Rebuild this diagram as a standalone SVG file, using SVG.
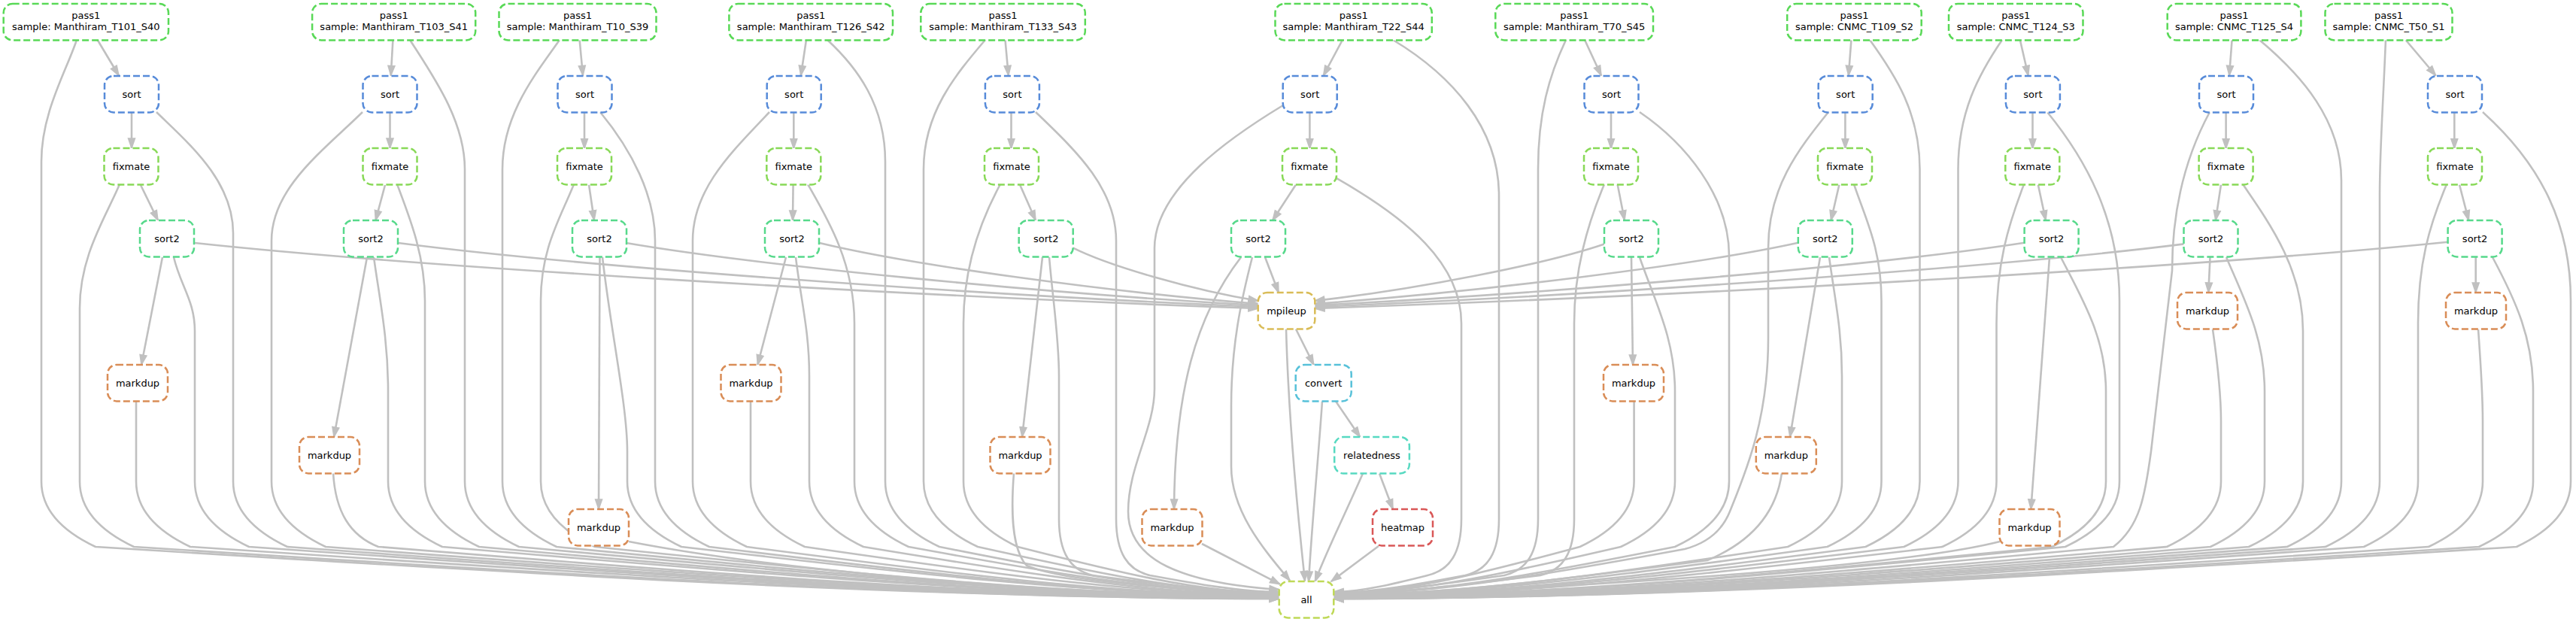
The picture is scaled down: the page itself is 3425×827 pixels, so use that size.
<svg xmlns="http://www.w3.org/2000/svg" width="3425" height="827" viewBox="0 0 3425 827">
<style>
.node rect{fill:#fff;stroke-width:2.5;stroke-dasharray:9 4}
.node text{font-family:"DejaVu Sans","Liberation Sans",sans-serif;font-size:13px;fill:#000;text-anchor:middle}
.pass1 rect{stroke:#59d957}.sort rect{stroke:#578bd9}.fixmate rect{stroke:#88d957}.sort2 rect{stroke:#57d98b}
.markdup rect{stroke:#d98d57}.mpileup rect{stroke:#d9bc57}.convert rect{stroke:#57c1d9}.relatedness rect{stroke:#57d9c1}
.heatmap rect{stroke:#d95757}.all rect{stroke:#bfd957}
#edges path{fill:none;stroke:#c0c0c0;stroke-width:2.6;marker-end:url(#ah)}
</style>
<defs>
<marker id="ah" markerUnits="userSpaceOnUse" markerWidth="16" markerHeight="12" viewBox="0 0 16 12" refX="14" refY="6" orient="auto"><path d="M1,1.5 L14,6 L1,10.5 Z" fill="#c0c0c0" stroke="#c0c0c0" stroke-width="1.5"/></marker>
</defs>
<rect width="3425" height="827" fill="#fff"/>
<g id="edges">
<path d="M129.6,53 L158,100.5"/><path d="M175,150 L175,197"/><path d="M187,246 L210,293"/><path d="M216,342 L188,485"/>
<path d="M522.4,53.3 L519.7,100.5"/><path d="M518.5,150 L518.5,197"/><path d="M512,246 L499.4,293"/><path d="M488,342 L444,581"/>
<path d="M770.6,53 L775,100.5"/><path d="M777,149.5 L777,197.5"/><path d="M783,245.5 L790,293"/><path d="M797.5,342 L796,677"/>
<path d="M1072,53 L1064.8,100.5"/><path d="M1055.3,149.5 L1055.3,197.5"/><path d="M1054.6,245.5 L1054,293"/><path d="M1045,342 L1007.3,485"/>
<path d="M1336.5,53 L1340.8,100.5"/><path d="M1344.5,149.5 L1344.5,197.5"/><path d="M1356,245.5 L1377,293"/><path d="M1386,342 L1359,581"/>
<path d="M1785,53 L1759.6,100.5"/><path d="M1741.4,149.5 L1741.4,197.5"/><path d="M1723,245.5 L1692,293"/><path d="M1682,342 L1700,389"/><path d="M1650,342 C1590,420 1562,520 1561,677"/>
<path d="M1723,437.5 L1746.7,485"/><path d="M1776,533.5 L1808.3,581"/><path d="M1834,629.5 L1852,677"/>
<path d="M2107,53 L2129,100.5"/><path d="M2142,149.5 L2142,197.5"/><path d="M2150.7,245.5 L2160,293"/><path d="M2169,342 L2171,485"/>
<path d="M2461.4,53 L2457.8,100.5"/><path d="M2453.4,149.5 L2453.4,197.5"/><path d="M2445.4,245.5 L2434.5,293"/><path d="M2420,342 L2379.9,581"/>
<path d="M2685.8,53 L2696.7,100.5"/><path d="M2702.5,149.5 L2702.5,197.5"/><path d="M2709.8,245.5 L2720,293"/><path d="M2725,342 L2700.3,677"/>
<path d="M2967.6,53 L2964,100.5"/><path d="M2959.6,149.5 L2959.6,197.5"/><path d="M2953,245.5 L2945.8,293"/><path d="M2938.5,342 L2936.3,389"/>
<path d="M3198.5,53 L3238.6,100.5"/><path d="M3263.3,149.5 L3263.3,197.5"/><path d="M3270,245.5 L3282.3,293"/><path d="M3291.7,342 L3291.7,389"/>
<path d="M259,323 C541.8,353.5 1178.1,392.6 1673,410"/>
<path d="M529.5,323 C758.2,352.8 1272.8,391 1673,408"/>
<path d="M832.5,323 C1000.6,352 1378.8,389.4 1673,406"/>
<path d="M1089.6,323 C1206.3,351.4 1468.8,387.8 1673,404"/>
<path d="M1426.8,329.6 C1476,354.2 1586.8,385.9 1673,400"/>
<path d="M2133,324.4 C2056,350.9 1882.8,384.9 1748,400"/>
<path d="M2390.8,322.8 C2262.2,351.2 1973,387.8 1748,404"/>
<path d="M2691.6,322.8 C2502.9,351.9 2078.3,389.4 1748,406"/>
<path d="M2904,324.4 C2672.8,353.7 2152.6,391.3 1748,408"/>
<path d="M3254.6,321.7 C2953.3,352.6 2275.3,392.3 1748,410"/>
<path d="M102,53 C88,95 55,150 55,215 L55,640 C55,683 91,710 127,727 C678,761.5 1229,796 1701,796"/>
<path d="M159,245 C140,290 106,340 106,410 L106,640 C106,683 142,710 178,727 C711,761.5 1244,796 1701,796"/>
<path d="M181,533.7 L181,640 C181,683 217,710 253,727 C760,761 1267,795 1701,795"/>
<path d="M231,342 C240,380 259,400 259,440 L259,640 C259,683 295,710 331,727 C810.5,761 1290,795 1701,795"/>
<path d="M208,149 C250,190 310,240 310,310 L310,640 C310,683 346,710 382,727 C844,761 1305,795 1701,795"/>
<path d="M482,149 C430,200 361,250 361,320 L361,640 C361,683 397,710 433,727 C877,760.5 1321,794 1701,794"/>
<path d="M443,629 C446,680 465,712 503,727 C922,761 1342,795 1701,795"/>
<path d="M497,342 C505,400 516,450 516,520 L516,640 C516,683 552,710 588,727 C977.5,760.5 1367,794 1701,794"/>
<path d="M528,245 C545,290 565,340 565,400 L565,640 C565,683 601,710 637,727 C1009,760.5 1382,794 1701,794"/>
<path d="M545,53 C575,100 618,160 618,225 L618,640 C618,683 654,710 690,727 C1044,760 1398,793 1701,793"/>
<path d="M744,53 C715,95 668,150 668,225 L668,640 C668,683 704,710 740,727 C1076,760 1413,793 1701,793"/>
<path d="M763,245 C745,290 719,330 719,400 L719,640 C719,683 755,710 791,727 C1109.5,760 1428,793 1701,793"/>
<path d="M801,342 C812,440 834,540 834,600 L834,640 C834,683 870,710 906,727 C1184,759.5 1462.5,792 1701,792"/>
<path d="M836,720 C1000,752 1350,790 1701,793"/>
<path d="M798,149 C840,200 871,260 871,320 L871,640 C871,683 907,710 943,727 C1208,759.5 1474,792 1701,792"/>
<path d="M1023,149 C975,200 921,250 921,320 L921,640 C921,683 957,710 993,727 C1241,759.5 1489,792 1701,792"/>
<path d="M998,533.7 L998,640 C998,683 1034,710 1070,727 C1291,759 1512,791 1701,791"/>
<path d="M1058,342 C1065,400 1076,440 1076,500 L1076,640 C1076,683 1112,710 1148,727 C1341.5,759 1535,791 1701,791"/>
<path d="M1074,245 C1100,290 1136,350 1136,430 L1136,640 C1136,683 1172,710 1208,727 C1380.5,758.5 1553,790 1701,790"/>
<path d="M1100,53 C1140,90 1177,140 1177,215 L1177,640 C1177,683 1213,710 1249,727 C1407,758.5 1565,790 1701,790"/>
<path d="M1310,53 C1270,100 1228,150 1228,225 L1228,640 C1228,683 1264,710 1300,727 C1440,758 1581,789 1701,789"/>
<path d="M1330,245 C1300,300 1281,360 1281,430 L1281,640 C1281,683 1317,710 1353,727 C1475,758 1597,789 1701,789"/>
<path d="M1348,629 C1344,680 1345,730 1365,752 C1420,775 1600,786 1701,788"/>
<path d="M1395,342 C1400,400 1408,450 1408,500 L1408,690 C1408,735 1423,758 1453,765 C1540,776.5 1626.6,788 1701,788"/>
<path d="M1377,149 C1430,200 1484,250 1484,320 L1484,690 C1484,735 1499,758 1529,765 C1589,776 1649,787 1701,787"/>
<path d="M1706,140 C1640,180 1535,250 1535,330 L1535,517 C1535,570 1500,620 1500,680 C1500,745 1570,775 1701,784"/>
<path d="M1665,342 C1650,400 1637,460 1637,540 L1637,620 C1637,680 1680,730 1715,772"/>
<path d="M1598,723 L1701.7,776.7"/>
<path d="M1710,437.5 C1713,550 1725,680 1735,772.6"/>
<path d="M1758,533.5 C1752,620 1744,700 1740,773"/>
<path d="M1812,629.5 C1790,680 1765,730 1748.5,773"/>
<path d="M1833,726 L1770,773"/>
<path d="M1777,237 C1870,290 1943,350 1943,430 L1943,690 C1943,735 1928,758 1898,765 C1854,776 1810.5,787 1773,787"/>
<path d="M1852,53 C1930,100 1993,170 1993,260 L1993,690 C1993,735 1978,758 1948,765 C1887,776.5 1825.5,788 1773,788"/>
<path d="M2082,53 C2060,100 2045,150 2045,225 L2045,690 C2045,735 2030,758 2000,765 C1920.5,776.5 1841,788 1773,788"/>
<path d="M2133,245 C2110,300 2093,360 2093,430 L2093,690 C2093,735 2078,758 2048,765 C1952,777 1855.5,789 1773,789"/>
<path d="M2172.6,533.7 L2172.6,640 C2172.6,683 2136.6,710 2100.6,727 C1986,758 1871,789 1773,789"/>
<path d="M2180,342 C2200,400 2227,450 2227,520 L2227,640 C2227,683 2191,710 2155,727 C2021,758 1887.6,789 1773,789"/>
<path d="M2180,149 C2240,190 2299,260 2299,340 L2299,640 C2299,683 2263,710 2227,727 C2068,758.5 1909,790 1773,790"/>
<path d="M2431,149 C2390,200 2351,250 2351,330 L2351,450 C2351,560 2320,630 2300,680 C2290,705 2270,722 2240,730 C2076.5,760 1913,790 1773,790"/>
<path d="M2369,629 C2362,680 2330,720 2270,745 C2096,768 1922,791 1773,791"/>
<path d="M2432,342 C2440,400 2449,440 2449,500 L2449,640 C2449,683 2413,710 2377,727 C2165.6,759 1954,791 1773,791"/>
<path d="M2465,245 C2480,290 2501.5,330 2501.5,400 L2501.5,640 C2501.5,683 2465.5,710 2429.5,727 C2199.7,759 1970,791 1773,791"/>
<path d="M2486,53 C2520,100 2552.5,150 2552.5,225 L2552.5,640 C2552.5,683 2516.5,710 2480.5,727 C2233,759.5 1985,792 1773,792"/>
<path d="M2662,53 C2630,100 2603.5,150 2603.5,225 L2603.5,640 C2603.5,683 2567.5,710 2531.5,727 C2266,759.5 2000.5,792 1773,792"/>
<path d="M2691,245 C2670,300 2654.5,350 2654.5,430 L2654.5,640 C2654.5,683 2618.5,710 2582.5,727 C2299,760 2016,793 1773,793"/>
<path d="M2659,720 C2550,748 2200,778 1773,792"/>
<path d="M2740,342 C2770,400 2800,450 2800,520 L2800,640 C2800,683 2764,710 2728,727 C2393.8,760 2059.5,793 1773,793"/>
<path d="M2722,149 C2780,220 2818,300 2818,400 L2818,640 C2818,683 2782,710 2746,727 C2405.5,760 2065,793 1773,793"/>
<path d="M2938,149 C2905,210 2888,280 2888,360 L2860,600 C2852,660 2845,700 2810,727 C2447,760.5 2084,794 1773,794"/>
<path d="M2942,438 C2948,480 2953,520 2953,560 L2953,640 C2953,683 2917,710 2881,727 C2493,760.5 2105.4,794 1773,794"/>
<path d="M2960,342 C2985,400 3011,450 3011,520 L3011,640 C3011,683 2975,710 2939,727 C2531,760.5 2123,794 1773,794"/>
<path d="M2982,245 C3020,300 3062,360 3062,440 L3062,640 C3062,683 3026,710 2990,727 C2564,761 2138,795 1773,795"/>
<path d="M3004,53 C3060,100 3113,160 3113,240 L3113,640 C3113,683 3077,710 3041,727 C2597,761 2153.4,795 1773,795"/>
<path d="M3172,53 C3168,150 3164,200 3164,260 L3164,640 C3164,683 3128,710 3092,727 C2630,761 2169,795 1773,795"/>
<path d="M3253,245 C3230,300 3215,350 3215,430 L3215,640 C3215,683 3179,710 3143,727 C2663.5,761.5 2184,796 1773,796"/>
<path d="M3295,438 C3298,480 3301,520 3301,560 L3301,640 C3301,683 3265,710 3229,727 C2719.4,761.5 2210,796 1773,796"/>
<path d="M3314,342 C3345,400 3368,450 3368,520 L3368,640 C3368,683 3332,710 3296,727 C2763,761.5 2230,796 1773,796"/>
<path d="M3301,149 C3380,220 3418,300 3418,400 L3418,640 C3418,683 3382,710 3346,727 C2795.5,761.5 2245,796 1773,796"/>
</g>
<g id="n_pass1_A" class="node pass1"><rect x="4.7" y="5" width="219.3" height="48.4" rx="12"/><text x="114.3" y="25.3">pass1</text><text x="114.3" y="39.7">sample: Manthiram_T101_S40</text></g>
<g id="n_sort_A" class="node sort"><rect x="139" y="101" width="72" height="48.4" rx="12"/><text x="175" y="129.5">sort</text></g>
<g id="n_fixmate_A" class="node fixmate"><rect x="138.5" y="197" width="72" height="48.4" rx="12"/><text x="174.5" y="225.5">fixmate</text></g>
<g id="n_sort2_A" class="node sort2"><rect x="186" y="293" width="72" height="48.4" rx="12"/><text x="222" y="321.5">sort2</text></g>
<g id="n_markdup_A" class="node markdup"><rect x="143" y="485" width="80" height="48.4" rx="12"/><text x="183" y="513.5">markdup</text></g>
<g id="n_pass1_B" class="node pass1"><rect x="415.1" y="5" width="217.1" height="48.4" rx="12"/><text x="523.7" y="25.3">pass1</text><text x="523.7" y="39.7">sample: Manthiram_T103_S41</text></g>
<g id="n_sort_B" class="node sort"><rect x="482.5" y="101" width="72" height="48.4" rx="12"/><text x="518.5" y="129.5">sort</text></g>
<g id="n_fixmate_B" class="node fixmate"><rect x="482.5" y="197" width="72" height="48.4" rx="12"/><text x="518.5" y="225.5">fixmate</text></g>
<g id="n_sort2_B" class="node sort2"><rect x="457" y="293" width="72" height="48.4" rx="12"/><text x="493" y="321.5">sort2</text></g>
<g id="n_markdup_B" class="node markdup"><rect x="398" y="581" width="80" height="48.4" rx="12"/><text x="438" y="609.5">markdup</text></g>
<g id="n_pass1_C" class="node pass1"><rect x="663.5" y="5" width="209" height="48.4" rx="12"/><text x="768" y="25.3">pass1</text><text x="768" y="39.7">sample: Manthiram_T10_S39</text></g>
<g id="n_sort_C" class="node sort"><rect x="741.5" y="101" width="72" height="48.4" rx="12"/><text x="777.5" y="129.5">sort</text></g>
<g id="n_fixmate_C" class="node fixmate"><rect x="741" y="197" width="72" height="48.4" rx="12"/><text x="777" y="225.5">fixmate</text></g>
<g id="n_sort2_C" class="node sort2"><rect x="761" y="293" width="72" height="48.4" rx="12"/><text x="797" y="321.5">sort2</text></g>
<g id="n_markdup_C" class="node markdup"><rect x="756" y="677" width="80" height="48.4" rx="12"/><text x="796" y="705.5">markdup</text></g>
<g id="n_pass1_D" class="node pass1"><rect x="969.4" y="5" width="217.6" height="48.4" rx="12"/><text x="1078.2" y="25.3">pass1</text><text x="1078.2" y="39.7">sample: Manthiram_T126_S42</text></g>
<g id="n_sort_D" class="node sort"><rect x="1019.7" y="101" width="72" height="48.4" rx="12"/><text x="1055.7" y="129.5">sort</text></g>
<g id="n_fixmate_D" class="node fixmate"><rect x="1019.3" y="197" width="72" height="48.4" rx="12"/><text x="1055.3" y="225.5">fixmate</text></g>
<g id="n_sort2_D" class="node sort2"><rect x="1017" y="293" width="72" height="48.4" rx="12"/><text x="1053" y="321.5">sort2</text></g>
<g id="n_markdup_D" class="node markdup"><rect x="958.5" y="485" width="80" height="48.4" rx="12"/><text x="998.5" y="513.5">markdup</text></g>
<g id="n_pass1_E" class="node pass1"><rect x="1224.3" y="5" width="218.5" height="48.4" rx="12"/><text x="1333.5" y="25.3">pass1</text><text x="1333.5" y="39.7">sample: Manthiram_T133_S43</text></g>
<g id="n_sort_E" class="node sort"><rect x="1309.9" y="101" width="72" height="48.4" rx="12"/><text x="1345.9" y="129.5">sort</text></g>
<g id="n_fixmate_E" class="node fixmate"><rect x="1309" y="197" width="72" height="48.4" rx="12"/><text x="1345" y="225.5">fixmate</text></g>
<g id="n_sort2_E" class="node sort2"><rect x="1354.7" y="293" width="72" height="48.4" rx="12"/><text x="1390.7" y="321.5">sort2</text></g>
<g id="n_markdup_E" class="node markdup"><rect x="1316.5" y="581" width="80" height="48.4" rx="12"/><text x="1356.5" y="609.5">markdup</text></g>
<g id="n_pass1_F" class="node pass1"><rect x="1695.5" y="5" width="208.3" height="48.4" rx="12"/><text x="1799.7" y="25.3">pass1</text><text x="1799.7" y="39.7">sample: Manthiram_T22_S44</text></g>
<g id="n_sort_F" class="node sort"><rect x="1705.7" y="101" width="72" height="48.4" rx="12"/><text x="1741.7" y="129.5">sort</text></g>
<g id="n_fixmate_F" class="node fixmate"><rect x="1705" y="197" width="72" height="48.4" rx="12"/><text x="1741" y="225.5">fixmate</text></g>
<g id="n_sort2_F" class="node sort2"><rect x="1637" y="293" width="72" height="48.4" rx="12"/><text x="1673" y="321.5">sort2</text></g>
<g id="n_markdup_F" class="node markdup"><rect x="1518.5" y="677" width="80" height="48.4" rx="12"/><text x="1558.5" y="705.5">markdup</text></g>
<g id="n_mpileup" class="node mpileup"><rect x="1672.7" y="389" width="75.6" height="48.4" rx="12"/><text x="1710.5" y="417.5">mpileup</text></g>
<g id="n_convert" class="node convert"><rect x="1722.7" y="485" width="74" height="48.4" rx="12"/><text x="1759.7" y="513.5">convert</text></g>
<g id="n_relatedness" class="node relatedness"><rect x="1774.2" y="581" width="99.7" height="48.4" rx="12"/><text x="1824" y="609.5">relatedness</text></g>
<g id="n_heatmap" class="node heatmap"><rect x="1825" y="677" width="80" height="48.4" rx="12"/><text x="1865" y="705.5">heatmap</text></g>
<g id="n_all" class="node all"><rect x="1700.7" y="773" width="72.6" height="48.4" rx="12"/><text x="1737" y="801.5">all</text></g>
<g id="n_pass1_G" class="node pass1"><rect x="1988.3" y="5" width="209.7" height="48.4" rx="12"/><text x="2093.2" y="25.3">pass1</text><text x="2093.2" y="39.7">sample: Manthiram_T70_S45</text></g>
<g id="n_sort_G" class="node sort"><rect x="2106.5" y="101" width="72" height="48.4" rx="12"/><text x="2142.5" y="129.5">sort</text></g>
<g id="n_fixmate_G" class="node fixmate"><rect x="2106" y="197" width="72" height="48.4" rx="12"/><text x="2142" y="225.5">fixmate</text></g>
<g id="n_sort2_G" class="node sort2"><rect x="2133" y="293" width="72" height="48.4" rx="12"/><text x="2169" y="321.5">sort2</text></g>
<g id="n_markdup_G" class="node markdup"><rect x="2132" y="485" width="80" height="48.4" rx="12"/><text x="2172" y="513.5">markdup</text></g>
<g id="n_pass1_H" class="node pass1"><rect x="2376.2" y="5" width="178.5" height="48.4" rx="12"/><text x="2465.5" y="25.3">pass1</text><text x="2465.5" y="39.7">sample: CNMC_T109_S2</text></g>
<g id="n_sort_H" class="node sort"><rect x="2417.7" y="101" width="72" height="48.4" rx="12"/><text x="2453.7" y="129.5">sort</text></g>
<g id="n_fixmate_H" class="node fixmate"><rect x="2417" y="197" width="72" height="48.4" rx="12"/><text x="2453" y="225.5">fixmate</text></g>
<g id="n_sort2_H" class="node sort2"><rect x="2390.8" y="293" width="72" height="48.4" rx="12"/><text x="2426.8" y="321.5">sort2</text></g>
<g id="n_markdup_H" class="node markdup"><rect x="2334.8" y="581" width="80" height="48.4" rx="12"/><text x="2374.8" y="609.5">markdup</text></g>
<g id="n_pass1_I" class="node pass1"><rect x="2591" y="5" width="178.5" height="48.4" rx="12"/><text x="2680.3" y="25.3">pass1</text><text x="2680.3" y="39.7">sample: CNMC_T124_S3</text></g>
<g id="n_sort_I" class="node sort"><rect x="2666.9" y="101" width="72" height="48.4" rx="12"/><text x="2702.9" y="129.5">sort</text></g>
<g id="n_fixmate_I" class="node fixmate"><rect x="2666.3" y="197" width="72" height="48.4" rx="12"/><text x="2702.3" y="225.5">fixmate</text></g>
<g id="n_sort2_I" class="node sort2"><rect x="2691.6" y="293" width="72" height="48.4" rx="12"/><text x="2727.6" y="321.5">sort2</text></g>
<g id="n_markdup_I" class="node markdup"><rect x="2658.5" y="677" width="80" height="48.4" rx="12"/><text x="2698.5" y="705.5">markdup</text></g>
<g id="n_pass1_J" class="node pass1"><rect x="2881.7" y="5" width="177.7" height="48.4" rx="12"/><text x="2970.5" y="25.3">pass1</text><text x="2970.5" y="39.7">sample: CNMC_T125_S4</text></g>
<g id="n_sort_J" class="node sort"><rect x="2924" y="101" width="72" height="48.4" rx="12"/><text x="2960" y="129.5">sort</text></g>
<g id="n_fixmate_J" class="node fixmate"><rect x="2923.6" y="197" width="72" height="48.4" rx="12"/><text x="2959.6" y="225.5">fixmate</text></g>
<g id="n_sort2_J" class="node sort2"><rect x="2903.5" y="293" width="72" height="48.4" rx="12"/><text x="2939.5" y="321.5">sort2</text></g>
<g id="n_markdup_J" class="node markdup"><rect x="2895" y="389" width="80" height="48.4" rx="12"/><text x="2935" y="417.5">markdup</text></g>
<g id="n_pass1_K" class="node pass1"><rect x="3091.5" y="5" width="169" height="48.4" rx="12"/><text x="3176" y="25.3">pass1</text><text x="3176" y="39.7">sample: CNMC_T50_S1</text></g>
<g id="n_sort_K" class="node sort"><rect x="3228" y="101" width="72" height="48.4" rx="12"/><text x="3264" y="129.5">sort</text></g>
<g id="n_fixmate_K" class="node fixmate"><rect x="3228" y="197" width="72" height="48.4" rx="12"/><text x="3264" y="225.5">fixmate</text></g>
<g id="n_sort2_K" class="node sort2"><rect x="3254.6" y="293" width="72" height="48.4" rx="12"/><text x="3290.6" y="321.5">sort2</text></g>
<g id="n_markdup_K" class="node markdup"><rect x="3252" y="389" width="80" height="48.4" rx="12"/><text x="3292" y="417.5">markdup</text></g>
</svg>
